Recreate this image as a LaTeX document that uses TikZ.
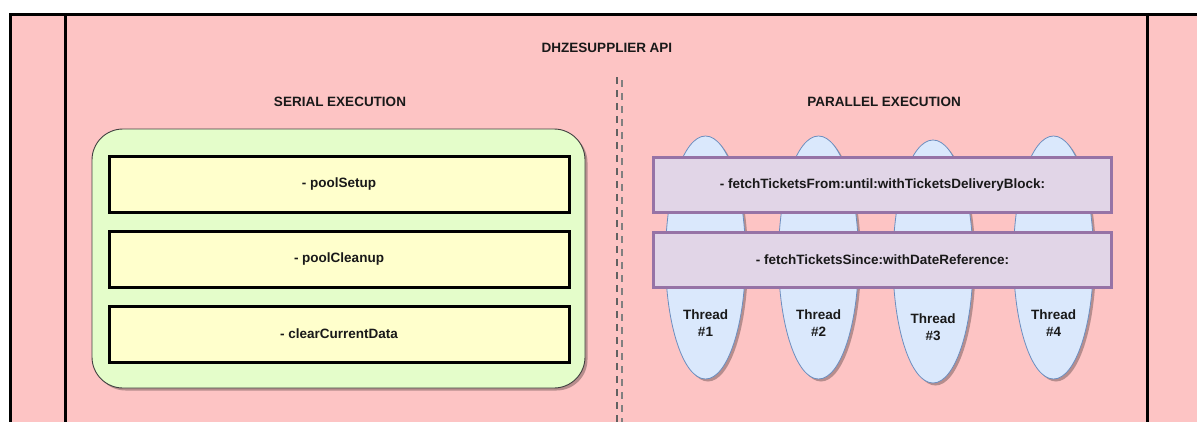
\documentclass[tikz,border=0pt]{standalone}
\usepackage{fontspec}
\setmainfont{Liberation Sans}
\usetikzlibrary{shapes.geometric,shadows}
\definecolor{poolpink}{HTML}{FDC4C4}
\definecolor{groupgreen}{HTML}{E4FDCA}
\definecolor{methodyellow}{HTML}{FFFFCC}
\definecolor{asyncfill}{HTML}{E1D5E7}
\definecolor{asyncline}{HTML}{9673A6}
\definecolor{threadfill}{HTML}{DAE8FC}
\definecolor{threadline}{HTML}{6C8EBF}
\begin{document}
\begin{tikzpicture}[x=1pt,y=-1pt,
  lbl/.style={font=\fontsize{13.5}{17}\selectfont\bfseries, inner sep=0pt, align=center, text=black!90},
  softshadow/.style={drop shadow={shadow xshift=2.5pt, shadow yshift=-2.5pt, fill=black, opacity=0.28}},
  groupbox/.style={draw=black!75, line width=0.9pt, fill=groupgreen, rounded corners=31pt,
    minimum width=493pt, minimum height=259pt, inner sep=0pt, softshadow},
  serialbox/.style={draw=black, line width=3pt, fill=methodyellow,
    minimum width=460pt, minimum height=56pt, inner sep=0pt, lbl},
  asyncbox/.style={draw=asyncline, line width=3pt, fill=asyncfill,
    minimum width=458pt, minimum height=55pt, inner sep=0pt, lbl},
  threadshape/.style={ellipse, draw=threadline, line width=0.8pt, fill=threadfill,
    minimum width=80pt, minimum height=243pt, inner sep=0pt, softshadow},
  frameline/.style={draw=black, line width=3pt},
  divider/.style={line width=1.5pt, dash pattern=on 7pt off 6pt}
]
\useasboundingbox (0,0) rectangle (1197,421);
\clip (0,0) rectangle (1197,421);

% pool background and its borders
\fill[poolpink] (10,14.7) rectangle (1200,425);
\draw[frameline] (10,425) -- (10,14.7) -- (1200,14.7);
\draw[frameline] (65.5,14.7) -- (65.5,425);
\draw[frameline] (1147,14.7) -- (1147,425);

% headings
\node[lbl] (title) at (607,48) {DHZESUPPLIER API};
\node[lbl] (serialhead) at (340,102) {SERIAL EXECUTION};
\node[lbl] (parallelhead) at (884,102) {PARALLEL EXECUTION};

% separator between the two execution modes
\coordinate (divtop) at (617,77);
\coordinate (divbot) at (617,425);
\coordinate (divtopsh) at (622,80);
\coordinate (divbotsh) at (622,425);
\draw[divider, draw=black!50] (divtopsh) -- (divbotsh);
\draw[divider, draw=black!62] (divtop) -- (divbot);

% serial group
\node[groupbox] (serial) at (338.5,258.5) {};
\node[serialbox] (setup) at (339,184.5) {- poolSetup};
\node[serialbox] (cleanup) at (339,259) {- poolCleanup};
\node[serialbox] (clear) at (339,334) {- clearCurrentData};

% worker threads
\node[threadshape] (t1) at (705.5,257.5) {};
\node[threadshape] (t2) at (818.5,257.5) {};
\node[threadshape] (t3) at (933,261.5) {};
\node[threadshape] (t4) at (1053.5,257.5) {};
\node[lbl] (t1lab) at (705.5,323.5) {Thread\\\#1};
\node[lbl] (t2lab) at (818.5,323.5) {Thread\\\#2};
\node[lbl] (t3lab) at (933,327) {Thread\\\#3};
\node[lbl] (t4lab) at (1053.5,323.5) {Thread\\\#4};

% parallel methods spanning the threads
\node[asyncbox] (fetchfrom) at (882.5,185) {- fetchTicketsFrom:until:withTicketsDeliveryBlock:};
\node[asyncbox] (fetchsince) at (882.5,260) {- fetchTicketsSince:withDateReference:};
\end{tikzpicture}
\end{document}
